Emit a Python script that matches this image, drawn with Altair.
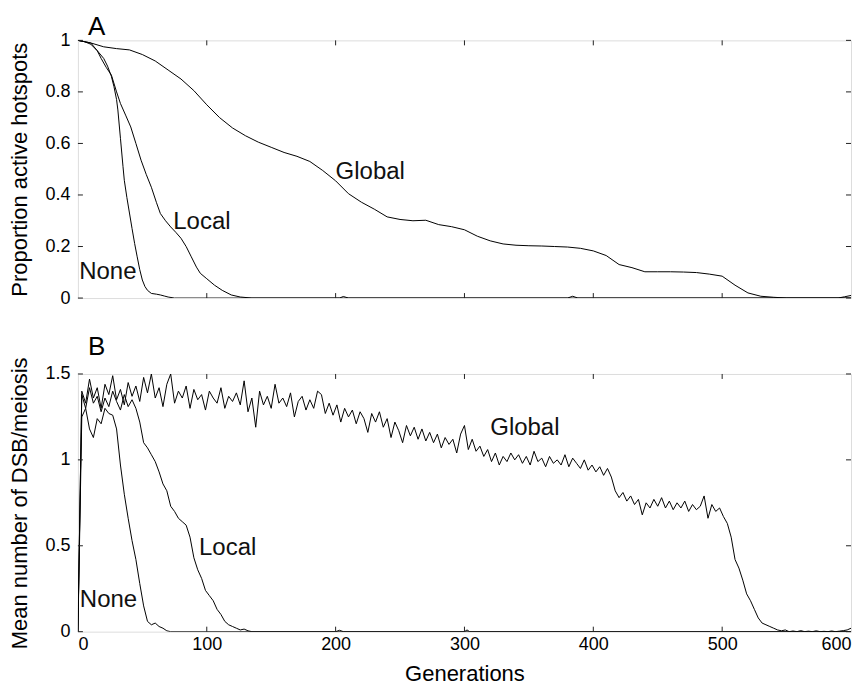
import altair as alt
import pandas as pd

FONT = "Liberation Sans"
W, H = 774, 258

X_LABELS = [0, 100, 200, 300, 400, 500, 600]
X_INNER_TICKS = [100, 200, 300, 400, 500]
A_Y_TICKS = [0, 0.2, 0.4, 0.6, 0.8, 1]
B_Y_TICKS = [0, 0.5, 1, 1.5]

# ---------------- Panel A: proportion of active hotspots ----------------
a_global_gen = [0, 10, 20, 30, 40, 50, 60, 70, 80, 90, 100, 110, 120, 130, 140, 150,
                160, 170, 180, 190, 200, 210, 220, 230, 240, 250, 260, 270, 280, 290,
                300, 310, 320, 330, 340, 350, 360, 370, 380, 390, 400, 410, 420, 430,
                440, 450, 460, 470, 480, 490, 500, 510, 520, 530, 540, 550, 590, 595, 600]
a_global_val = [1.0, 0.99, 0.975, 0.968, 0.963, 0.945, 0.92, 0.885, 0.85, 0.805, 0.75,
                0.70, 0.66, 0.63, 0.605, 0.585, 0.565, 0.55, 0.53, 0.495, 0.455, 0.405,
                0.372, 0.345, 0.315, 0.305, 0.30, 0.302, 0.285, 0.277, 0.265, 0.24,
                0.222, 0.21, 0.205, 0.203, 0.202, 0.20, 0.198, 0.193, 0.183, 0.165,
                0.13, 0.118, 0.102, 0.102, 0.102, 0.101, 0.099, 0.093, 0.085, 0.05,
                0.02, 0.007, 0.003, 0.0, 0.0, 0.005, 0.01]

a_local_gen = [0, 5, 10, 15, 18, 22, 26, 30, 33, 37, 41, 45, 49, 53, 57, 61, 64, 68, 72,
               76, 80, 84, 88, 92, 95, 100, 106, 112, 119, 126, 135, 203, 206, 210,
               380, 384, 388, 600]
a_local_val = [1.0, 0.995, 0.99, 0.96, 0.93, 0.895, 0.865, 0.80, 0.755, 0.71, 0.664,
               0.60, 0.535, 0.48, 0.43, 0.37, 0.328, 0.30, 0.276, 0.255, 0.232, 0.20,
               0.16, 0.12, 0.096, 0.075, 0.05, 0.03, 0.012, 0.004, 0.0, 0.0, 0.006,
               0.0, 0.0, 0.007, 0.0, 0.0]

a_none_gen = [0, 5, 10, 15, 20, 23, 26, 28, 30, 31, 33, 35, 36, 38, 40, 42, 44, 46, 48,
              50, 52, 54, 57, 61, 64, 67, 70, 75, 600]
a_none_val = [1.0, 0.995, 0.985, 0.96, 0.93, 0.90, 0.86, 0.82, 0.77, 0.73, 0.62, 0.51,
              0.457, 0.39, 0.33, 0.27, 0.212, 0.16, 0.11, 0.07, 0.045, 0.03, 0.018,
              0.015, 0.012, 0.008, 0.004, 0.0, 0.0]

# ---------------- Panel B: mean number of DSB per meiosis ----------------
b_global_gen = list(range(0, 601, 3))
b_global_val = [
    0.0, 1.40, 1.33, 1.47, 1.36, 1.42, 1.30, 1.44, 1.38, 1.49,
    1.35, 1.41, 1.32, 1.45, 1.37, 1.43, 1.34, 1.48, 1.39, 1.50,
    1.36, 1.42, 1.31, 1.44, 1.50, 1.33, 1.40, 1.36, 1.43, 1.30,
    1.41, 1.35, 1.38, 1.29, 1.40, 1.36, 1.33, 1.42, 1.30, 1.37,
    1.34, 1.39, 1.32, 1.46, 1.28, 1.36, 1.19, 1.40, 1.32, 1.37,
    1.30, 1.44, 1.33, 1.36, 1.31, 1.39, 1.25, 1.34, 1.37, 1.29,
    1.35, 1.30, 1.40, 1.38, 1.27, 1.33, 1.26, 1.32, 1.22, 1.30,
    1.25, 1.29, 1.21, 1.28, 1.24, 1.16, 1.27, 1.22, 1.28, 1.19,
    1.24, 1.13, 1.22, 1.17, 1.10, 1.20, 1.14, 1.19, 1.12, 1.18,
    1.11, 1.16, 1.10, 1.15, 1.07, 1.13, 1.09, 1.12, 1.04, 1.15,
    1.20, 1.06, 1.12, 1.05, 1.08, 1.02, 1.06, 0.99, 1.04, 0.97,
    1.02, 0.99, 1.04, 1.00, 1.03, 0.98, 1.02, 0.97, 1.05, 0.99,
    1.01, 0.96, 1.02, 0.98, 1.00, 0.97, 1.03, 0.96, 1.01, 0.98,
    0.95, 1.00, 0.94, 0.97, 0.93, 0.96, 0.91, 0.95, 0.90, 0.82,
    0.78, 0.81, 0.76, 0.79, 0.74, 0.77, 0.68, 0.75, 0.72, 0.77,
    0.73, 0.78, 0.72, 0.76, 0.71, 0.75, 0.72, 0.76, 0.70, 0.74,
    0.71, 0.73, 0.79, 0.66, 0.74, 0.70, 0.72, 0.67, 0.63, 0.55,
    0.42, 0.37, 0.30, 0.22, 0.18, 0.13, 0.08, 0.05, 0.04, 0.03,
    0.02, 0.01, 0.005, 0.01, 0.0, 0.004, 0.0, 0.006, 0.0, 0.003,
    0.0, 0.005, 0.0, 0.002, 0.0, 0.004, 0.0, 0.003, 0.006, 0.01,
    0.02,
]

b_local_gen = list(range(0, 136, 3)) + [200, 203, 206, 600]
b_local_val = [
    0.0, 1.38, 1.30, 1.42, 1.33, 1.37, 1.28, 1.36, 1.31, 1.40,
    1.34, 1.29, 1.38, 1.31, 1.35, 1.30, 1.22, 1.10, 1.07, 1.03,
    0.99, 0.93, 0.86, 0.82, 0.73, 0.70, 0.66, 0.64, 0.62, 0.55,
    0.43, 0.36, 0.31, 0.24, 0.21, 0.18, 0.13, 0.10, 0.06, 0.04,
    0.03, 0.02, 0.01, 0.015, 0.005, 0.0,
    0.0, 0.008, 0.0, 0.0,
]

b_none_gen = list(range(0, 73, 3)) + [300, 302, 304, 600]
b_none_val = [
    0.0, 1.25, 1.30, 1.18, 1.13, 1.24, 1.21, 1.30, 1.27, 1.26,
    1.18, 0.97, 0.80, 0.66, 0.53, 0.42, 0.28, 0.15, 0.06, 0.04,
    0.05, 0.03, 0.02, 0.005, 0.0,
    0.0, 0.01, 0.0, 0.0,
]

# In-plot labels
a_lab_text = ["Global", "Local", "None"]
a_lab_gen = [200, 74, 1]
a_lab_val = [0.49, 0.295, 0.10]
b_lab_text = ["Global", "Local", "None"]
b_lab_gen = [320, 94, 1.5]
b_lab_val = [1.186, 0.488, 0.186]


def long_df(series):
    rows = []
    for name, (g, v) in series.items():
        rows += [{"series": name, "gen": gi, "value": vi} for gi, vi in zip(g, v)]
    return pd.DataFrame(rows)


def panel(df, ydomain, yticks, ytitle, letter, lab_df, bottom_axis, title_offset):
    xscale = alt.Scale(domain=[0, 600], nice=False, zero=False)
    yscale = alt.Scale(domain=ydomain, nice=False, zero=False)
    if bottom_axis:
        x_axis = alt.Axis(values=X_LABELS, ticks=False, domain=False, grid=False,
                          labelFontSize=18, labelPadding=4, labelColor="black",
                          labelFont=FONT, title="Generations", titleFontSize=22,
                          titlePadding=10, titleFontWeight="normal",
                          titleColor="black", titleFont=FONT)
    else:
        x_axis = alt.Axis(values=X_LABELS, ticks=False, domain=False, grid=False,
                          labels=False, title=None)
    y_axis = alt.Axis(values=yticks, format="~g", ticks=False, domain=False, grid=False,
                      labelFontSize=18, labelPadding=8, labelColor="black",
                      labelFont=FONT, title=ytitle, titleFontSize=22,
                      titleX=-46, titleY=H / 2, titleAngle=270, titleBaseline="bottom",
                      titleAlign="center",
                      titleFontWeight="normal", titleColor="black", titleFont=FONT)

    X = alt.X("gen:Q", scale=xscale, axis=x_axis)
    Y = alt.Y("value:Q", scale=yscale, axis=y_axis)

    lines = alt.Chart(df).mark_line(color="black", strokeWidth=1, clip=True).encode(
        x=X, y=Y, detail="series:N",
    )

    xt = pd.DataFrame({"gen": X_INNER_TICKS})
    yt = pd.DataFrame({"value": yticks})
    tick_col = "#222"
    bottom = alt.Chart(xt).mark_rule(color=tick_col, strokeWidth=1).encode(
        x=X, y=alt.value(H), y2=alt.value(H - 5))
    top = alt.Chart(xt).mark_rule(color=tick_col, strokeWidth=1).encode(
        x=X, y=alt.value(0), y2=alt.value(5))
    left = alt.Chart(yt).mark_rule(color=tick_col, strokeWidth=1).encode(
        y=Y, x=alt.value(0), x2=alt.value(5))
    right = alt.Chart(yt).mark_rule(color=tick_col, strokeWidth=1).encode(
        y=Y, x=alt.value(W), x2=alt.value(W - 5))

    labels = alt.Chart(lab_df).mark_text(align="left", baseline="middle", fontSize=24,
                                         font=FONT, color="#111").encode(
        x=X, y=Y, text="text:N",
    )

    return alt.layer(lines, bottom, top, left, right, labels).properties(
        width=W, height=H,
        title=alt.TitleParams(text=letter, anchor="start", frame="group", fontSize=26,
                              fontWeight="normal", font=FONT, color="black",
                              dx=10, offset=title_offset),
    )


df_a = long_df({"Global": (a_global_gen, a_global_val),
                "Local": (a_local_gen, a_local_val),
                "None": (a_none_gen, a_none_val)})
df_b = long_df({"Global": (b_global_gen, b_global_val),
                "Local": (b_local_gen, b_local_val),
                "None": (b_none_gen, b_none_val)})
lab_a = pd.DataFrame({"text": a_lab_text, "gen": a_lab_gen, "value": a_lab_val})
lab_b = pd.DataFrame({"text": b_lab_text, "gen": b_lab_gen, "value": b_lab_val})

pa = panel(df_a, [0, 1], A_Y_TICKS, "Proportion active hotspots", "A", lab_a, False, -9)
pb = panel(df_b, [0, 1.5], B_Y_TICKS, "Mean number of DSB/meiosis", "B", lab_b, True, -3)

chart = alt.vconcat(pa, pb, spacing=25).properties(
    padding={"left": 0, "top": 5, "right": 5, "bottom": 5}
).configure_view(
    stroke="#222", strokeWidth=1
).configure(background="white")

chart.save("out.html", embed_options={"renderer": "svg", "actions": False})
